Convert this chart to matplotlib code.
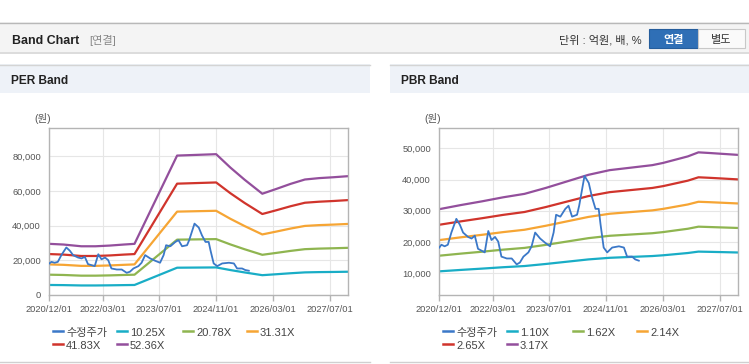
import numpy as np
import matplotlib.pyplot as plt
from matplotlib.patches import Rectangle
from matplotlib.lines import Line2D
from matplotlib.ticker import FuncFormatter

plt.rcParams['font.family'] = ['Liberation Sans', 'Noto Sans CJK KR']

W, H = 749, 364

# x values are months after 2020/12/01
tick_labels = ['2020/12/01', '2022/03/01', '2023/07/01', '2024/11/01', '2026/03/01', '2027/07/01']

# adjusted close (수정주가), same for both charts
price_month = [0, 0.6, 1.5, 2.4, 3.4, 4.8, 5.8, 6.7, 8.1, 9.1, 10.0, 10.9, 11.9, 12.8,
               13.8, 14.7, 15.7, 16.6, 17.5, 19.0, 20.4, 21.8, 22.7, 23.7, 25.1, 26.0,
               27.0, 28.4, 29.8, 31.2, 32.2, 32.9, 34.1, 35.5, 36.4, 37.4, 38.8, 39.4,
               40.9, 42.1, 43.0, 44.0, 44.9, 45.4, 46.3, 47.3, 48.7, 50.6, 52.0, 52.9,
               54.3, 55.2, 56.2]
price = [18200, 19100, 18600, 19100, 23000, 27400, 25500, 23000, 21600, 21100, 22000,
         17800, 17200, 16650, 23500, 20600, 21600, 20100, 15300, 14700, 14700, 12800,
         13400, 15300, 16650, 18600, 23000, 21100, 19750, 18600, 23000, 28700, 28100,
         30600, 31600, 28100, 28700, 31600, 41150, 38900, 34400, 30600, 30600, 25800,
         18200, 16650, 18200, 18600, 18200, 15300, 15300, 14400, 14000]

# PER band
per_month = [0, 4, 9, 13, 17, 21, 24, 36, 47, 51, 55, 60, 64, 68, 72, 76, 80, 84]
per_names = ['10.25X', '20.78X', '31.31X', '41.83X', '52.36X']
per_1025 = [5780, 5700, 5500, 5500, 5580, 5700, 5780, 15740, 15900, 14390, 13020, 11430,
            11980, 12550, 13040, 13200, 13290, 13410]
per_2078 = [11710, 11550, 11150, 11150, 11310, 11550, 11710, 31910, 32230, 29170, 26390,
            23180, 24290, 25440, 26430, 26750, 26950, 27190]
per_3131 = [17640, 17400, 16800, 16800, 17040, 17400, 17640, 48080, 48560, 43950, 39770,
            34920, 36600, 38330, 39830, 40300, 40600, 40960]
per_4183 = [23600, 23300, 22500, 22500, 22800, 23300, 23600, 64200, 64900, 58700, 53100,
            46700, 48900, 51200, 53200, 53800, 54200, 54700]
per_5236 = [29500, 29100, 28100, 28100, 28500, 29100, 29500, 80400, 81200, 73500, 66500,
            58400, 61200, 64100, 66600, 67400, 67900, 68500]

# PBR band
pbr_month = [0, 6, 12, 18, 24, 30, 36, 42, 48, 54, 60, 63, 66, 70, 73, 76, 80, 84]
pbr_names = ['1.10X', '1.62X', '2.14X', '2.65X', '3.17X']
pbr_110 = [10580, 11030, 11450, 11900, 12280, 12940, 13670, 14400, 14920, 15200, 15480,
           15720, 16030, 16450, 16900, 16830, 16730, 16620]
pbr_162 = [15590, 16250, 16860, 17530, 18090, 19060, 20130, 21210, 21970, 22380, 22790,
           23150, 23610, 24220, 24890, 24780, 24630, 24480]
pbr_214 = [20590, 21470, 22280, 23150, 23900, 25180, 26600, 28010, 29030, 29570, 30110,
           30580, 31190, 32000, 32870, 32740, 32540, 32330]
pbr_265 = [25500, 26580, 27590, 28670, 29590, 31180, 32940, 34690, 35950, 36620, 37290,
           37870, 38620, 39630, 40710, 40550, 40300, 40040]
pbr_317 = [30500, 31800, 33000, 34300, 35400, 37300, 39400, 41500, 43000, 43800, 44600,
           45300, 46200, 47400, 48700, 48500, 48200, 47900]

colors = ['#3b78c8', '#19adc6', '#8fb550', '#f6a534', '#d0342c', '#934f9c']

fig = plt.figure(figsize=(W / 100, H / 100), dpi=100)


def rect(l, t, r, b, **kw):
    fig.patches.append(Rectangle((l / W, 1 - b / H), (r - l) / W, (b - t) / H,
                                 transform=fig.transFigure, **kw))


def hline(x0, x1, y, **kw):
    fig.add_artist(Line2D([x0 / W, x1 / W], [1 - y / H, 1 - y / H], **kw))


def txt(x, y, s, **kw):
    fig.text(x / W, 1 - y / H, s, va='center_baseline', **kw)


# header bar
rect(0, 22, W, 52, facecolor='#f4f4f4', edgecolor='none')
hline(0, W, 22.5, color='#b8b8b8', lw=1)
hline(0, W, 52.5, color='#d6d6d6', lw=1.2)
txt(11.5, 39, 'Band Chart', fontsize=8.9, fontweight='bold', color='#222222')
txt(89, 39, '[연결]', fontsize=8, color='#888888')
txt(642, 39, '단위 : 억원, 배, %', fontsize=8, color='#333333', ha='right')
rect(649, 29, 698, 48, facecolor='#2f6fb6', edgecolor='#255d9c', lw=0.8)
txt(673.5, 39.5, '연결', fontsize=8, fontweight='bold', color='white', ha='center')
rect(698, 29, 745, 48, facecolor='#fafafa', edgecolor='#c8c8c8', lw=0.8)
txt(721.5, 39.5, '별도', fontsize=8, color='#333333', ha='center')


def tick_pos(label):
    y, m = int(label[:4]), int(label[5:7])
    return (y - 2020) * 12 + (m - 12)


def band_panel(x0, title, months, bands, names, ylim, yticks):
    # panel frame
    rect(x0, 64, x0 + 370, 93, facecolor='#eef2f8', edgecolor='none')
    hline(x0, x0 + 370, 64.5, color='#d4d4d4', lw=1)
    hline(x0, x0 + 370, 361.5, color='#d0d0d0', lw=1)
    txt(x0 + 11, 79, title, fontsize=8.6, fontweight='bold', color='#222222')
    txt(x0 + 34, 118, '(원)', fontsize=7.5, color='#555555')

    l, t, r, b = x0 + 49.3, 128, x0 + 347.5, 295
    ax = fig.add_axes([l / W, 1 - b / H, (r - l) / W, (b - t) / H])
    ax.plot(price_month, price, color=colors[0], lw=1.3, zorder=3)
    for i, vals in enumerate(bands):
        ax.plot(months, vals, color=colors[i + 1], lw=1.6, zorder=2)

    ax.set_xlim(0, 84)
    ax.set_ylim(*ylim)
    ax.set_xticks([tick_pos(s) for s in tick_labels])
    ax.set_xticklabels(tick_labels)
    ax.set_yticks(yticks)
    ax.yaxis.set_major_formatter(FuncFormatter(lambda v, p: f'{v:,.0f}'))
    ax.grid(True, color='#e6e6e6', lw=0.8, zorder=0)
    ax.set_axisbelow(True)
    for s in ax.spines.values():
        s.set_color('#b4b4b4')
        s.set_linewidth(1)
    ax.tick_params(axis='x', length=4, width=1, color='#b4b4b4', pad=3,
                   labelsize=6.7, labelcolor='#555555')
    ax.tick_params(axis='y', length=0, pad=6, labelsize=6.7, labelcolor='#555555')

    # legend
    labels = ['수정주가'] + names
    cols = [53, 117, 183, 247]
    rows = [331, 344]
    for i, lab in enumerate(labels):
        cx = x0 + cols[i % 4]
        cy = rows[i // 4]
        hline(cx, cx + 10, cy, color=colors[i], lw=1.8)
        txt(cx + 13, cy + 1, lab, fontsize=8, color='#444444')
    return ax


band_panel(0, 'PER Band', per_month,
           [per_1025, per_2078, per_3131, per_4183, per_5236], per_names,
           (0, 96300), [0, 20000, 40000, 60000, 80000])
band_panel(390, 'PBR Band', pbr_month,
           [pbr_110, pbr_162, pbr_214, pbr_265, pbr_317], pbr_names,
           (3000, 56500), [10000, 20000, 30000, 40000, 50000])

fig.savefig('out.png', dpi=100)
